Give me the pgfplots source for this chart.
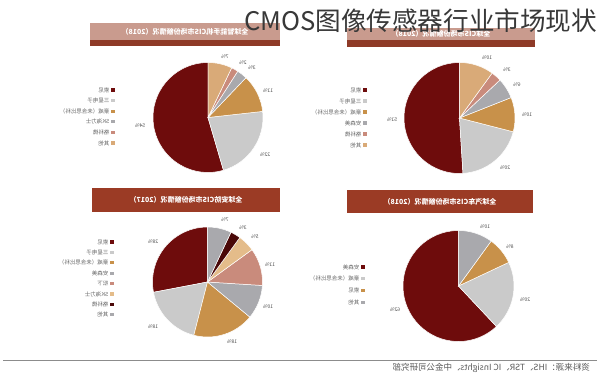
\documentclass[border=0pt]{standalone}
\usepackage{fontspec}
\setmainfont{Noto Sans CJK SC}
\usepackage{pgfplots}
\usepackage{pgfplotstable}
\pgfplotsset{compat=1.18}

\definecolor{cMaroon}{HTML}{6E0C0C}
\definecolor{cLGray}{HTML}{CACACA}
\definecolor{cGold}{HTML}{C8914A}
\definecolor{cGray}{HTML}{A9A9AD}
\definecolor{cPink}{HTML}{C98B7C}
\definecolor{cTan}{HTML}{D9AA78}
\definecolor{cLTan}{HTML}{E4BC8A}
\definecolor{cDark}{HTML}{4A0808}
\definecolor{barLight}{HTML}{C99B8E}
\definecolor{barDark}{HTML}{8E3A27}
\definecolor{barRed}{HTML}{9B3B25}

% name, value (%), colour, label offset from pie centre (px, y up)
\pgfplotstableread{
name value color lx ly
索尼 54 cMaroon -68 -8.5
三星电子 22 cLGray 57 -37.5
豪威（未含思比科） 11 cGold 60 26.5
SK海力士 3 cGray 44 49.5
格科微 2 cPink 35 54.5
其他 7 cTan 17 60.5
}\tabTL

\pgfplotstableread{
name value color lx ly
索尼 51 cMaroon -67.5 -2
三星电子 20 cLGray 45.5 -50
豪威（未含思比科） 10 cGold 67.5 3
安森美 6 cGray 57.5 33
格科微 3 cPink 47.5 48
其他 10 cTan 27.5 60
}\tabTR

\pgfplotstableread{
name value color lx ly
索尼 28 cMaroon -54.5 40
三星电子 18 cLGray -54.5 -45
豪威（未含思比科） 18 cGold 24.5 -60
安森美 10 cGray 60.5 -25
松下 11 cPink 62.5 17
SK海力士 5 cLTan 47.5 45
格科微 3 cDark 35.5 54
其他 7 cGray 17.5 62
}\tabBL

\pgfplotstableread{
name value color lx ly
安森美 62 cMaroon -63.5 -24
豪威（未含思比科） 20 cLGray 66.5 -14
索尼 8 cGold 51.5 39
其他 10 cGray 26.5 59
}\tabBR

\tikzset{
  pct/.style={font=\fontsize{5}{6}\selectfont, text=black!70, xscale=-1, inner sep=0pt},
  legtext/.style={font=\fontsize{5.5}{6.5}\selectfont, text=black!60, xscale=-1, inner sep=0pt},
  bartext/.style={font=\bfseries\fontsize{7}{8}\selectfont, text=white, xscale=-1, inner sep=0pt},
}

% #1 table, #2 legend marker x, #3 legend first y, #4 legend step, #5 radius (pt)
\newcommand\drawpie[5]{%
  \pgfplotstablegetrowsof{#1}\pgfmathtruncatemacro\nlast{\pgfplotsretval-1}%
  \def\total{0}%
  \pgfplotsforeachungrouped \i in {0,...,\nlast}{%
    \pgfplotstablegetelem{\i}{value}\of{#1}%
    \pgfmathsetmacro\total{\total+\pgfplotsretval}%
  }%
  \def\cum{90}%
  \pgfplotsforeachungrouped \i in {0,...,\nlast}{%
    \pgfplotstablegetelem{\i}{value}\of{#1}\let\val\pgfplotsretval
    \pgfplotstablegetelem{\i}{color}\of{#1}\let\col\pgfplotsretval
    \pgfplotstablegetelem{\i}{name}\of{#1}\let\nam\pgfplotsretval
    \pgfplotstablegetelem{\i}{lx}\of{#1}\let\lx\pgfplotsretval
    \pgfplotstablegetelem{\i}{ly}\of{#1}\let\ly\pgfplotsretval
    \pgfmathsetmacro\nxt{\cum+\val/\total*360}%
    \pgfmathsetmacro\legy{#3-\i*#4}%
    \pgfmathsetmacro\legx{#2-3.5}%
    \edef\temp{%
      \noexpand\fill[\col, draw=white, line width=0.5pt] (axis cs:0,0) -- ++(\cum:#5pt) arc[start angle=\cum, end angle=\nxt, radius=#5pt] -- cycle;
      \noexpand\node[pct] at (axis cs:\lx,\ly) {\val\noexpand\%};
      \noexpand\fill[\col] (axis cs:#2,\legy) ++(-1.6pt,-1.6pt) rectangle ++(3.2pt,3.2pt);
      \noexpand\node[legtext, anchor=west] at (axis cs:\legx,\legy) {\nam};
    }\temp
    \let\cum\nxt
  }%
}

\begin{document}
\begin{tikzpicture}
\path[use as bounding box, fill=white] (0pt,0pt) rectangle (600pt,-377pt);

% title bars
\fill[barLight] (90pt,-23pt) rectangle (280pt,-40pt);
\fill[barDark] (90pt,-40pt) rectangle (280pt,-46pt);
\node[bartext] at (185pt,-31.5pt) {全球智能手机CIS市场份额情况（2018）};
\fill[barLight] (347pt,-28pt) rectangle (535pt,-40pt);
\fill[barDark] (347pt,-40pt) rectangle (535pt,-47pt);
\node[bartext] at (441pt,-34pt) {全球CIS市场份额情况（2018）};
\fill[barRed] (92pt,-188pt) rectangle (280pt,-212pt);
\node[bartext] at (186pt,-200pt) {全球安防CIS市场份额情况（2017）};
\fill[barRed] (347pt,-190pt) rectangle (533pt,-213pt);
\node[bartext] at (440pt,-201.5pt) {全球汽车CIS市场份额情况（2018）};

% pies
\begin{axis}[hide axis, x=1pt, y=1pt, xmin=-60, xmax=60, ymin=-60, ymax=60,
  clip=false, at={(208pt,-117.5pt)}, anchor=origin]
  \drawpie{\tabTL}{-95}{27.5}{10.6}{55}
\end{axis}
\begin{axis}[hide axis, x=1pt, y=1pt, xmin=-60, xmax=60, ymin=-60, ymax=60,
  clip=false, at={(459.5pt,-118pt)}, anchor=origin]
  \drawpie{\tabTR}{-94.5}{28}{11}{55.5}
\end{axis}
\begin{axis}[hide axis, x=1pt, y=1pt, xmin=-60, xmax=60, ymin=-60, ymax=60,
  clip=false, at={(207.5pt,-282pt)}, anchor=origin]
  \drawpie{\tabBL}{-95.5}{40}{10.4}{55}
\end{axis}
\begin{axis}[hide axis, x=1pt, y=1pt, xmin=-60, xmax=60, ymin=-60, ymax=60,
  clip=false, at={(458.5pt,-286pt)}, anchor=origin]
  \drawpie{\tabBR}{-95.5}{19}{11.7}{55.5}
\end{axis}

% footer
\draw[line width=0.8pt, color=black!45] (3pt,-360pt) -- (597pt,-360pt);
\node[font=\fontsize{8.5}{9}\selectfont, text=black!65, xscale=-1, anchor=west, inner sep=0pt]
  at (590pt,-367.5pt) {资料来源：IHS、TSR、IC Insights、中金公司研究部};

% overlay title
\node[font=\fontsize{25.6}{28}\selectfont, text=black!78, anchor=west, inner sep=0pt]
  at (244pt,-21pt) {CMOS图像传感器行业市场现状};
\end{tikzpicture}
\end{document}
